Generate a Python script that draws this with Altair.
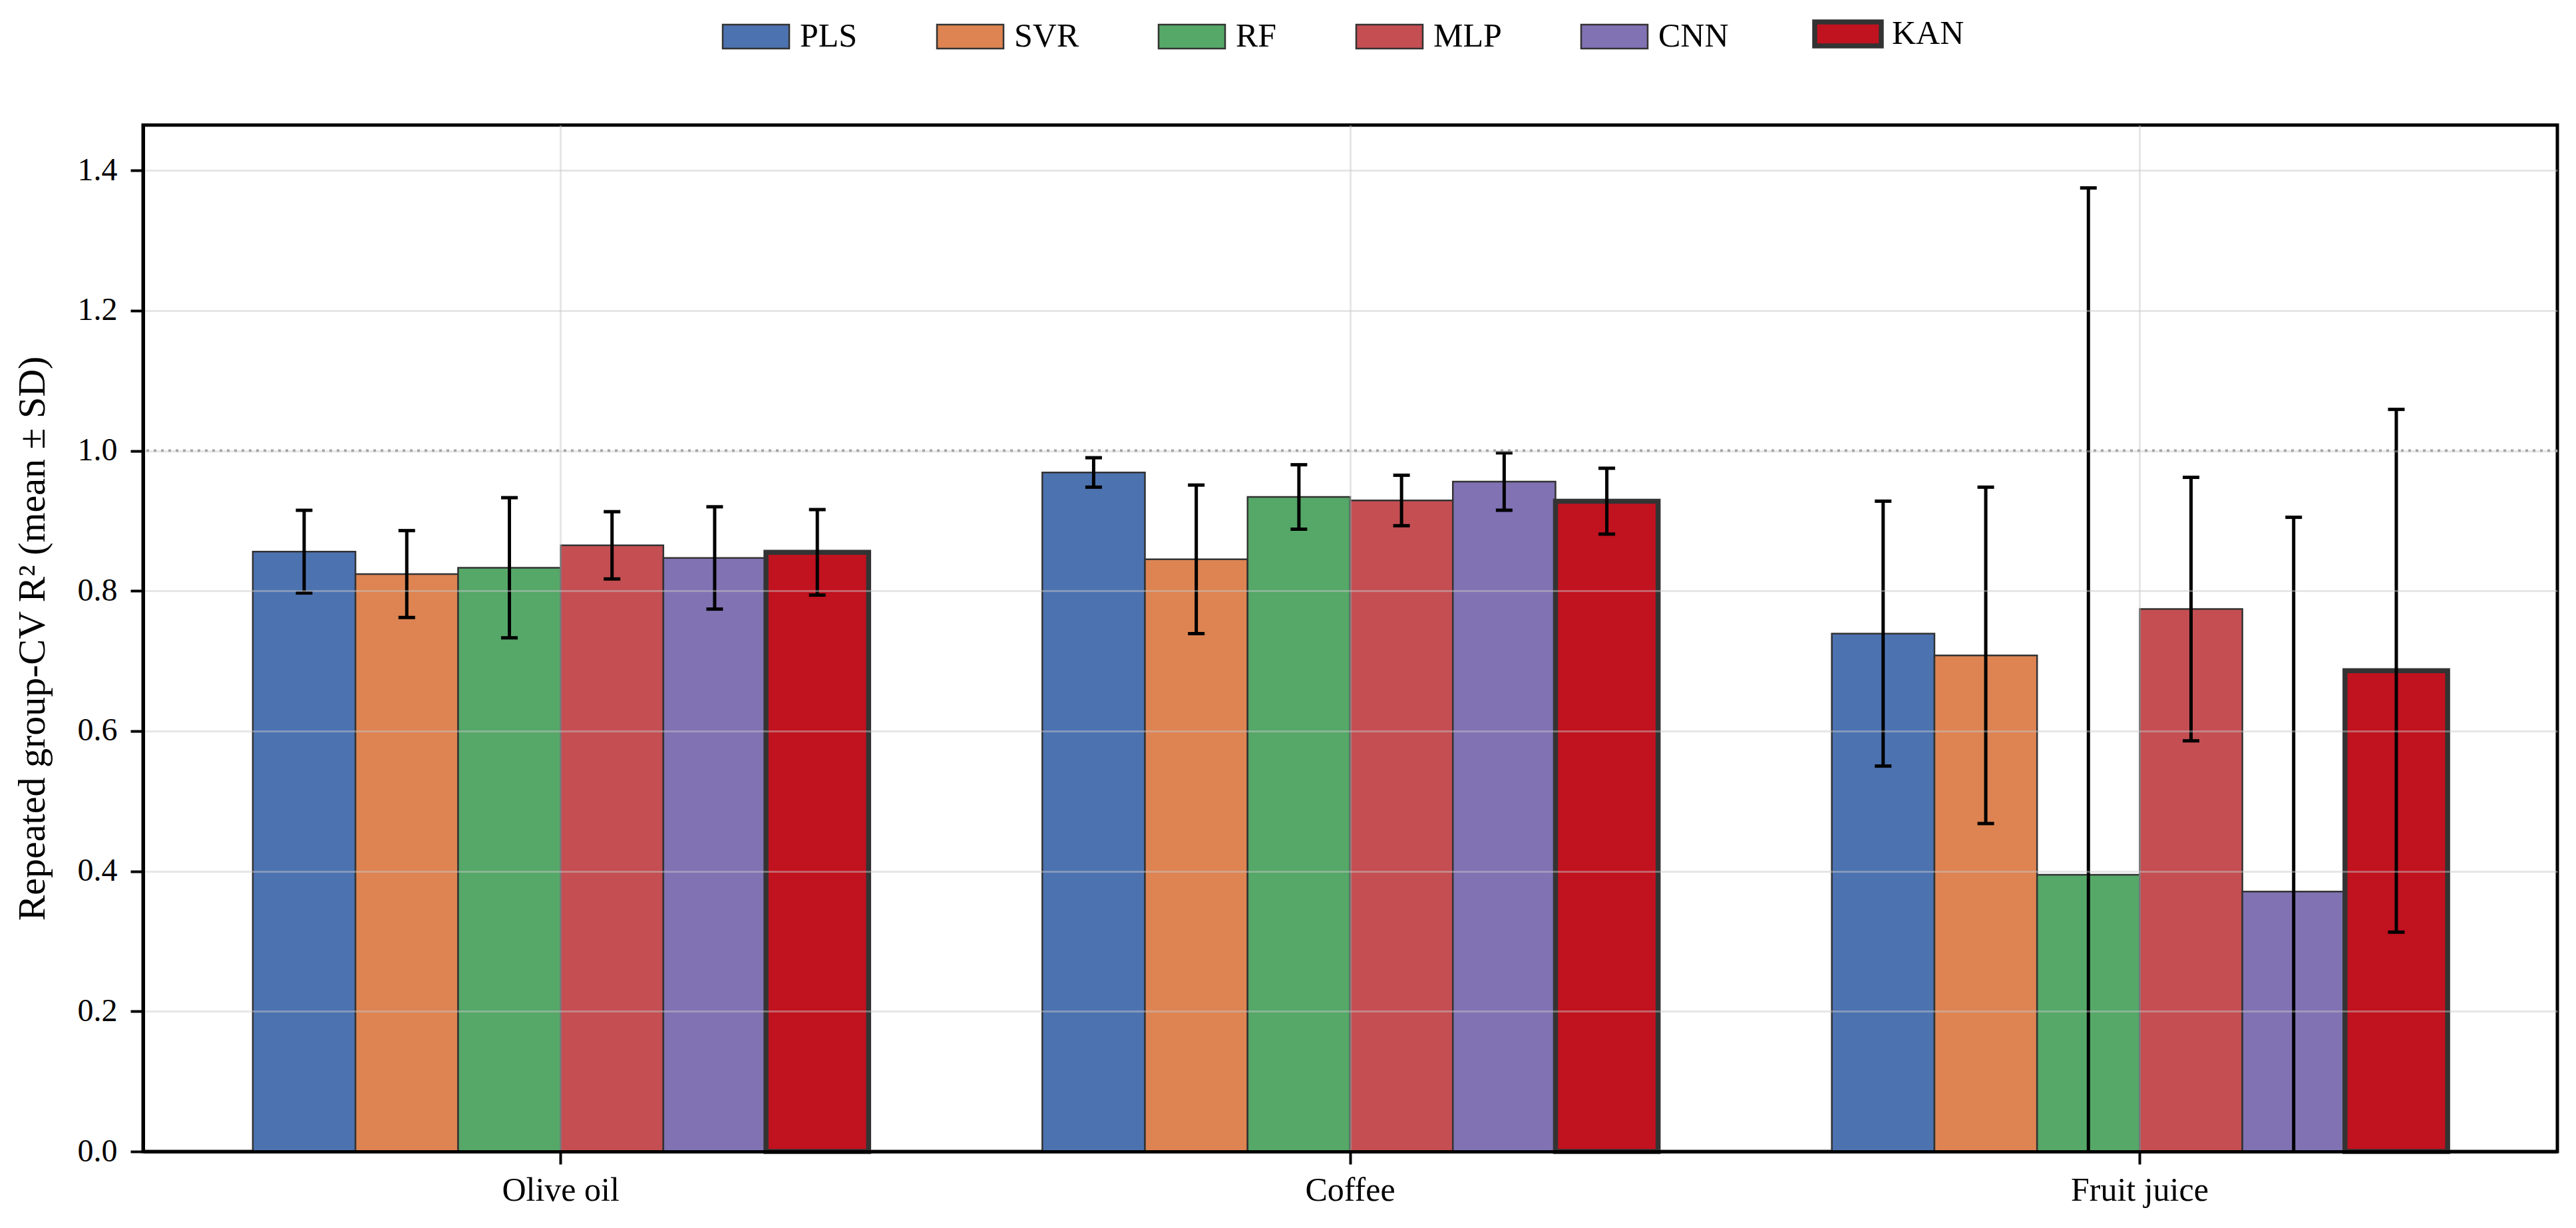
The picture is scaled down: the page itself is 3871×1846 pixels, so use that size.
import altair as alt
import pandas as pd

FONT = "Liberation Serif"

datasets = ["Olive oil", "Coffee", "Fruit juice"]
models = ["PLS", "SVR", "RF", "MLP", "CNN", "KAN"]
colors = ["#4C72B0", "#DD8452", "#55A868", "#C44E52", "#8172B3", "#C1121F"]

olive_mean = [0.856, 0.824, 0.833, 0.865, 0.847, 0.855]
olive_sd = [0.059, 0.062, 0.100, 0.048, 0.073, 0.061]
coffee_mean = [0.969, 0.845, 0.934, 0.929, 0.956, 0.928]
coffee_sd = [0.021, 0.106, 0.046, 0.036, 0.041, 0.047]
juice_mean = [0.739, 0.708, 0.395, 0.774, 0.371, 0.686]
juice_sd = [0.189, 0.240, 0.980, 0.188, 0.534, 0.373]

y_ticks = [0.0, 0.2, 0.4, 0.6, 0.8, 1.0, 1.2, 1.4]
ref_line = [1.0]

means = [olive_mean, coffee_mean, juice_mean]
sds = [olive_sd, coffee_sd, juice_sd]
rows = []
for d, ms, ss in zip(datasets, means, sds):
    for m, mu, sd in zip(models, ms, ss):
        rows.append({"dataset": d, "model": m, "mean": mu, "lo": mu - sd, "hi": mu + sd})
df = pd.DataFrame(rows)

YTITLE = "Repeated group-CV R² (mean ± SD)"
yscale = alt.Scale(domain=[0, 1.4647], nice=False, zero=True)
grid_kw = dict(grid=True, gridColor="#c8c8c8", gridOpacity=0.45, gridWidth=3)
yaxis = alt.Axis(values=y_ticks, format=".1f", labelFont=FONT, labelFontSize=48,
                 labelColor="black", tickSize=19, tickWidth=4, tickColor="black",
                 domainColor="black", domainWidth=5, labelPadding=20,
                 titleFont=FONT, titleFontSize=58, titleFontWeight="normal",
                 titleColor="black", titlePadding=38, zindex=1, **grid_kw)
xaxis = alt.Axis(title=None, labelAngle=0, labelFont=FONT, labelFontSize=50,
                 labelColor="black", tickSize=19, tickWidth=4, tickColor="black",
                 domainColor="black", domainWidth=5, labelPadding=14, labelLimit=2000,
                 bandPosition=0.5, zindex=1, **grid_kw)

base = alt.Chart(df).encode(
    x=alt.X("dataset:N", sort=datasets,
            scale=alt.Scale(paddingInner=0.22, paddingOuter=0.139), axis=xaxis),
    xOffset=alt.XOffset("model:N", sort=models,
                        scale=alt.Scale(paddingInner=0, paddingOuter=0)),
)

legend = alt.Legend(orient="none", legendX=896, legendY=-162, direction="horizontal",
                    columns=6, title=None, labelFont=FONT, labelFontSize=50,
                    labelColor="black", symbolType="M-1,-0.36H1V0.36H-1Z",
                    symbolSize=10000, symbolStrokeColor="#333333",
                    symbolStrokeWidth=alt.ExprRef("datum.value === 'KAN' ? 7.5 : 2.5"),
                    symbolOpacity=1, labelOffset=41, columnPadding=114, padding=0,
                    labelLimit=1000)

bars = base.mark_bar(stroke="#333333", opacity=1).encode(
    y=alt.Y("mean:Q", scale=yscale, axis=yaxis, title=YTITLE),
    color=alt.Color("model:N", sort=models,
                    scale=alt.Scale(domain=models, range=colors), legend=legend),
    strokeWidth=alt.when(alt.datum.model == "KAN").then(alt.value(7.5)).otherwise(alt.value(2.5)),
)

err = base.mark_rule(color="black", strokeWidth=5, clip=True).encode(
    y=alt.Y("lo:Q", scale=yscale, axis=yaxis, title=YTITLE),
    y2="hi:Q",
)
cap_hi = base.mark_tick(color="black", thickness=5, size=25, clip=True, opacity=1).encode(
    y=alt.Y("hi:Q", scale=yscale, axis=yaxis, title=YTITLE),
)
cap_lo = base.mark_tick(color="black", thickness=5, size=25, clip=True, opacity=1).encode(
    y=alt.Y("lo:Q", scale=yscale, axis=yaxis, title=YTITLE),
)

ref = alt.Chart(pd.DataFrame({"y": ref_line})).mark_rule(
    color="#999999", strokeDash=[4, 7], strokeWidth=4
).encode(y=alt.Y("y:Q", scale=yscale, axis=yaxis, title=YTITLE))

chart = alt.layer(bars, ref, err, cap_hi, cap_lo).properties(
    width=3628, height=1543,
    padding={"left": 207, "top": 180, "right": 20, "bottom": 107},
    autosize=alt.AutoSizeParams(type="none"),
).configure(
    font=FONT,
    view=alt.ViewConfig(stroke="black", strokeWidth=5),
)

chart.save("out.html", embed_options={"renderer": "svg", "actions": False})
